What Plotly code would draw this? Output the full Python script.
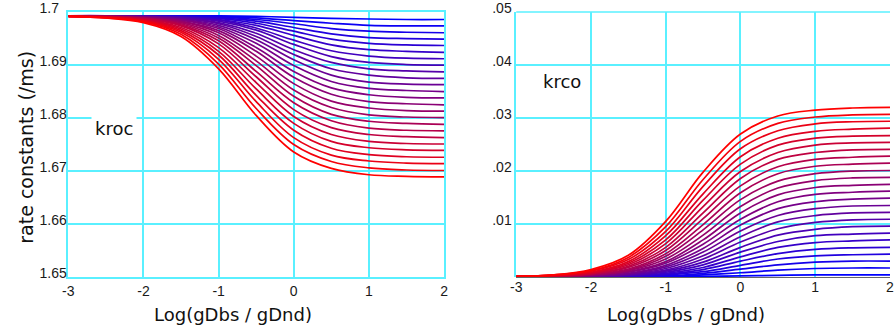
import plotly.graph_objects as go

W, H = 894, 331

# x positions (log10 of gDbs / gDnd)
x_log = [-3.0, -2.5, -2.0, -1.5, -1.0, -0.5, 0.0, 0.5, 1.0, 1.5, 2.0]

# kroc curves (/ms), blue (first) -> red (last)
kroc_curves = [
    [1.6993, 1.6993, 1.6993, 1.6993, 1.6993, 1.6992, 1.6990, 1.6988, 1.6987, 1.6986, 1.6986],
    [1.6993, 1.6993, 1.6993, 1.6993, 1.6992, 1.6989, 1.6984, 1.6979, 1.6975, 1.6974, 1.6974],
    [1.6993, 1.6993, 1.6993, 1.6992, 1.6991, 1.6986, 1.6978, 1.6969, 1.6964, 1.6962, 1.6961],
    [1.6993, 1.6993, 1.6993, 1.6992, 1.6989, 1.6983, 1.6971, 1.6959, 1.6952, 1.6950, 1.6949],
    [1.6993, 1.6993, 1.6992, 1.6991, 1.6988, 1.6979, 1.6964, 1.6949, 1.6941, 1.6938, 1.6937],
    [1.6993, 1.6993, 1.6992, 1.6991, 1.6986, 1.6975, 1.6956, 1.6938, 1.6929, 1.6926, 1.6924],
    [1.6993, 1.6993, 1.6992, 1.6990, 1.6985, 1.6970, 1.6947, 1.6927, 1.6917, 1.6913, 1.6912],
    [1.6993, 1.6993, 1.6992, 1.6990, 1.6983, 1.6966, 1.6939, 1.6916, 1.6905, 1.6901, 1.6900],
    [1.6993, 1.6993, 1.6992, 1.6989, 1.6980, 1.6960, 1.6929, 1.6905, 1.6893, 1.6889, 1.6887],
    [1.6993, 1.6993, 1.6991, 1.6988, 1.6978, 1.6954, 1.6920, 1.6893, 1.6881, 1.6876, 1.6875],
    [1.6993, 1.6992, 1.6991, 1.6987, 1.6975, 1.6948, 1.6910, 1.6881, 1.6868, 1.6864, 1.6863],
    [1.6993, 1.6992, 1.6991, 1.6986, 1.6972, 1.6941, 1.6899, 1.6869, 1.6856, 1.6852, 1.6850],
    [1.6993, 1.6992, 1.6990, 1.6985, 1.6969, 1.6933, 1.6888, 1.6857, 1.6844, 1.6839, 1.6838],
    [1.6993, 1.6992, 1.6990, 1.6983, 1.6965, 1.6926, 1.6877, 1.6845, 1.6831, 1.6827, 1.6825],
    [1.6993, 1.6992, 1.6989, 1.6982, 1.6961, 1.6917, 1.6865, 1.6832, 1.6819, 1.6814, 1.6813],
    [1.6993, 1.6992, 1.6989, 1.6980, 1.6956, 1.6908, 1.6853, 1.6820, 1.6806, 1.6802, 1.6801],
    [1.6993, 1.6992, 1.6988, 1.6978, 1.6951, 1.6899, 1.6841, 1.6807, 1.6794, 1.6790, 1.6788],
    [1.6993, 1.6991, 1.6988, 1.6976, 1.6946, 1.6888, 1.6829, 1.6795, 1.6781, 1.6777, 1.6776],
    [1.6992, 1.6991, 1.6987, 1.6974, 1.6940, 1.6878, 1.6816, 1.6782, 1.6769, 1.6765, 1.6763],
    [1.6992, 1.6991, 1.6986, 1.6971, 1.6933, 1.6867, 1.6803, 1.6769, 1.6756, 1.6752, 1.6751],
    [1.6992, 1.6991, 1.6985, 1.6968, 1.6926, 1.6855, 1.6790, 1.6756, 1.6744, 1.6740, 1.6739],
    [1.6992, 1.6990, 1.6984, 1.6965, 1.6919, 1.6843, 1.6777, 1.6743, 1.6731, 1.6727, 1.6726],
    [1.6992, 1.6990, 1.6983, 1.6962, 1.6911, 1.6831, 1.6763, 1.6730, 1.6719, 1.6715, 1.6714],
    [1.6992, 1.6989, 1.6982, 1.6958, 1.6902, 1.6818, 1.6750, 1.6718, 1.6706, 1.6702, 1.6701],
    [1.6992, 1.6989, 1.6980, 1.6954, 1.6893, 1.6805, 1.6736, 1.6705, 1.6693, 1.6690, 1.6689],
]

# krco curves (/ms), blue (first) -> red (last)
krco_curves = [
    [0.0000, 0.0000, 0.0000, 0.0000, 0.0000, 0.0001, 0.0002, 0.0003, 0.0004, 0.0004, 0.0004],
    [0.0000, 0.0000, 0.0000, 0.0000, 0.0001, 0.0004, 0.0008, 0.0013, 0.0016, 0.0017, 0.0017],
    [0.0000, 0.0000, 0.0000, 0.0001, 0.0002, 0.0007, 0.0015, 0.0023, 0.0028, 0.0030, 0.0030],
    [0.0000, 0.0000, 0.0000, 0.0001, 0.0004, 0.0010, 0.0022, 0.0034, 0.0040, 0.0042, 0.0043],
    [0.0000, 0.0000, 0.0001, 0.0002, 0.0005, 0.0014, 0.0030, 0.0044, 0.0052, 0.0055, 0.0056],
    [0.0000, 0.0000, 0.0001, 0.0002, 0.0007, 0.0018, 0.0038, 0.0056, 0.0065, 0.0068, 0.0070],
    [0.0000, 0.0000, 0.0001, 0.0003, 0.0009, 0.0023, 0.0047, 0.0067, 0.0078, 0.0081, 0.0083],
    [0.0000, 0.0000, 0.0001, 0.0003, 0.0011, 0.0028, 0.0056, 0.0079, 0.0090, 0.0095, 0.0096],
    [0.0000, 0.0000, 0.0001, 0.0004, 0.0013, 0.0034, 0.0066, 0.0091, 0.0103, 0.0108, 0.0109],
    [0.0000, 0.0000, 0.0002, 0.0005, 0.0016, 0.0040, 0.0076, 0.0104, 0.0116, 0.0121, 0.0122],
    [0.0000, 0.0001, 0.0002, 0.0006, 0.0019, 0.0047, 0.0087, 0.0116, 0.0129, 0.0134, 0.0135],
    [0.0000, 0.0001, 0.0002, 0.0007, 0.0022, 0.0054, 0.0098, 0.0129, 0.0142, 0.0147, 0.0149],
    [0.0000, 0.0001, 0.0003, 0.0009, 0.0026, 0.0062, 0.0109, 0.0142, 0.0156, 0.0160, 0.0162],
    [0.0000, 0.0001, 0.0003, 0.0010, 0.0029, 0.0070, 0.0121, 0.0155, 0.0169, 0.0173, 0.0175],
    [0.0000, 0.0001, 0.0004, 0.0012, 0.0034, 0.0079, 0.0133, 0.0168, 0.0182, 0.0187, 0.0188],
    [0.0000, 0.0001, 0.0004, 0.0013, 0.0039, 0.0089, 0.0146, 0.0181, 0.0195, 0.0200, 0.0201],
    [0.0000, 0.0001, 0.0005, 0.0015, 0.0044, 0.0099, 0.0159, 0.0195, 0.0209, 0.0213, 0.0215],
    [0.0001, 0.0002, 0.0006, 0.0018, 0.0050, 0.0110, 0.0172, 0.0208, 0.0222, 0.0226, 0.0228],
    [0.0001, 0.0002, 0.0006, 0.0020, 0.0056, 0.0121, 0.0186, 0.0222, 0.0235, 0.0240, 0.0241],
    [0.0001, 0.0002, 0.0007, 0.0023, 0.0063, 0.0133, 0.0199, 0.0235, 0.0249, 0.0253, 0.0254],
    [0.0001, 0.0003, 0.0008, 0.0026, 0.0070, 0.0145, 0.0213, 0.0249, 0.0262, 0.0266, 0.0267],
    [0.0001, 0.0003, 0.0009, 0.0029, 0.0078, 0.0157, 0.0227, 0.0262, 0.0275, 0.0279, 0.0281],
    [0.0001, 0.0003, 0.0011, 0.0033, 0.0086, 0.0171, 0.0242, 0.0276, 0.0289, 0.0293, 0.0294],
    [0.0001, 0.0004, 0.0012, 0.0037, 0.0095, 0.0184, 0.0256, 0.0290, 0.0302, 0.0306, 0.0307],
    [0.0001, 0.0004, 0.0014, 0.0041, 0.0105, 0.0198, 0.0270, 0.0304, 0.0315, 0.0319, 0.0320],
]

x_ticks = [-3, -2, -1, 0, 1, 2]
x_tick_text = ["-3", "-2", "-1", "0", "1", "2"]
kroc_ticks = [1.65, 1.66, 1.67, 1.68, 1.69, 1.70]
kroc_tick_text = ["1.65", "1.66", "1.67", "1.68", "1.69", "1.7\u2007"]
krco_ticks = [0.01, 0.02, 0.03, 0.04, 0.05]
krco_tick_text = [".01", ".02", ".03", ".04", ".05"]

GRID = "rgb(90,240,255)"
FONT = "DejaVu Sans"
TICKFONT = dict(family="Liberation Sans, Arial", size=14, color="#1a1a1a")


def curve_color(i, n):
    t = i / (n - 1)
    return "rgb(%d,0,%d)" % (round(255 * t), round(255 * (1 - t)))


fig = go.Figure()
n = len(kroc_curves)
for i, ys in enumerate(kroc_curves):
    fig.add_trace(go.Scatter(x=x_log, y=ys, mode="lines", xaxis="x", yaxis="y",
                             line=dict(color=curve_color(i, n), width=1.7, shape="spline", smoothing=1.0),
                             showlegend=False, hoverinfo="skip"))
n2 = len(krco_curves)
for i, ys in enumerate(krco_curves):
    fig.add_trace(go.Scatter(x=x_log, y=ys, mode="lines", xaxis="x2", yaxis="y2",
                             line=dict(color=curve_color(i, n2), width=1.7, shape="spline", smoothing=1.0),
                             showlegend=False, hoverinfo="skip", cliponaxis=False))


def px_x(p):
    return p / W


PLOT_TOP, PLOT_BOT = 8, 277


def px_y(p):
    return (PLOT_BOT - p) / (PLOT_BOT - PLOT_TOP)


common_x = dict(range=[-3, 2], tickmode="array", tickvals=x_ticks, ticktext=x_tick_text,
                showgrid=True, gridcolor=GRID, gridwidth=1.5, zeroline=False,
                ticks="", tickfont=TICKFONT, ticklabeloverflow="allow", fixedrange=True)

fig.update_layout(
    width=W, height=H,
    margin=dict(l=0, r=0, t=PLOT_TOP, b=H - PLOT_BOT),
    paper_bgcolor="white", plot_bgcolor="white",
    xaxis=dict(domain=[px_x(63), px_x(443)], anchor="y", showline=True, mirror=True,
               linecolor=GRID, linewidth=1.5, **common_x),
    xaxis2=dict(domain=[px_x(516), 1.0], anchor="y2", showline=False, **common_x),
    yaxis=dict(domain=[0, 1], anchor="x", range=[1.65, 1.70002], tickmode="array",
               tickvals=kroc_ticks, ticktext=kroc_tick_text,
               showgrid=True, gridcolor=GRID, gridwidth=1.5, zeroline=False,
               showline=True, mirror=True, linecolor=GRID, linewidth=1.5,
               ticks="", tickfont=TICKFONT, ticklabeloverflow="allow",
               ticklabelshift=-4, ticklabelstandoff=-3, fixedrange=True),
    yaxis2=dict(domain=[0, 1], anchor="x2", range=[0, 0.05002], tickmode="array",
                tickvals=krco_ticks, ticktext=krco_tick_text,
                showgrid=True, gridcolor=GRID, gridwidth=1.5,
                zeroline=True, zerolinecolor="#666666", zerolinewidth=1.2,
                showline=True, mirror=False, linecolor=GRID, linewidth=1.5,
                ticks="", tickfont=TICKFONT, ticklabeloverflow="allow",
                ticklabelshift=-4, ticklabelstandoff=0, fixedrange=True),
)

# top border of the right panel
fig.add_shape(type="line", xref="x2 domain", yref="y2 domain", x0=0, x1=1, y0=1, y1=1,
              line=dict(color=GRID, width=1.5), layer="below")

ann_font = dict(family=FONT, size=18, color="#111111")
fig.add_annotation(text="Log(gDbs / gDnd)", xref="paper", yref="paper",
                   x=px_x(230), y=px_y(315), showarrow=False, font=ann_font,
                   xanchor="center", yanchor="middle")
fig.add_annotation(text="Log(gDbs / gDnd)", xref="paper", yref="paper",
                   x=px_x(688), y=px_y(315), showarrow=False, font=ann_font,
                   xanchor="center", yanchor="middle")
fig.add_annotation(text="rate constants (/ms)", xref="paper", yref="paper",
                   x=px_x(20), y=px_y(145), showarrow=False, textangle=-90,
                   font=dict(family=FONT, size=19, color="#111111"),
                   xanchor="center", yanchor="middle")
fig.add_annotation(text="kroc", xref="paper", yref="paper",
                   x=px_x(109), y=px_y(126), showarrow=False, font=ann_font,
                   bgcolor="white", borderpad=3, xanchor="center", yanchor="middle")
fig.add_annotation(text="krco", xref="paper", yref="paper",
                   x=px_x(562), y=px_y(79), showarrow=False, font=ann_font,
                   bgcolor="white", borderpad=3, xanchor="center", yanchor="middle")

fig.write_html("out.html", config={"displayModeBar": False})
